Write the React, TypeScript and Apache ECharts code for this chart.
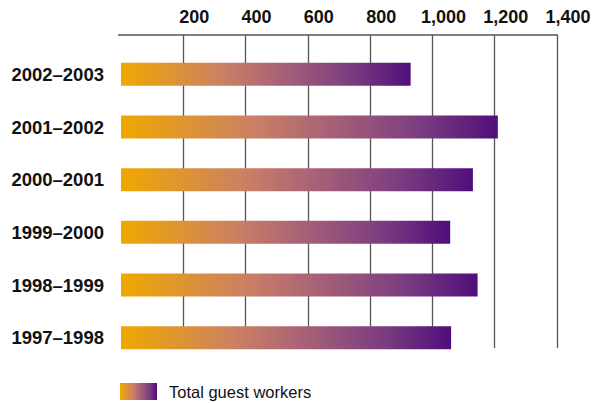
import React, { useEffect, useRef } from "react";
import * as echarts from "echarts";

const categories = ["2002–2003", "2001–2002", "2000–2001", "1999–2000", "1998–1999", "1997–1998"];
const guestWorkers = [930, 1210, 1130, 1057, 1145, 1060];
const seriesName = "Total guest workers";
const xMin = 0;
const xMax = 1400;
const xInterval = 200;

const FONT = "'Liberation Sans', Arial, sans-serif";

export default function App() {
  const ref = useRef<HTMLDivElement>(null);
  useEffect(() => {
    if (!ref.current) return;
    const chart = echarts.init(ref.current, null, { renderer: "svg" });
    const gradient = new echarts.graphic.LinearGradient(0, 0, 1, 0, [
      { offset: 0, color: "#F0A800" },
      { offset: 0.35, color: "#CB8064" },
      { offset: 0.55, color: "#A86277" },
      { offset: 0.8, color: "#7A3C80" },
      { offset: 1, color: "#500E7A" },
    ]);
    chart.setOption({
      animation: false,
      backgroundColor: "#ffffff",
      textStyle: { fontFamily: FONT },
      legend: {
        show: true,
        left: 120,
        top: 383,
        padding: 0,
        icon: "rect",
        itemWidth: 37,
        itemHeight: 17,
        data: [seriesName],
        textStyle: {
          fontFamily: FONT,
          fontSize: 16.5,
          color: "#111",
          padding: [0, 0, 0, 7],
        },
      },
      graphic: [
        {
          type: "line",
          shape: { x1: 118, y1: 35, x2: 558, y2: 35 },
          style: { stroke: "#000", lineWidth: 1.2 },
        },
      ],
      grid: [
        { left: 121, right: 37, top: 48, height: 316, containLabel: false },
        { left: 183.3, right: 37, top: 35, height: 313, containLabel: false },
      ],
      xAxis: [
        { gridIndex: 0, type: "value", min: xMin, max: xMax, interval: xInterval, show: false },
        {
          gridIndex: 1,
          type: "value",
          position: "top",
          min: xInterval,
          max: xMax,
          interval: xInterval,
          axisLine: { show: false },
          axisTick: { show: false },
          splitLine: { show: true, lineStyle: { color: "#555", width: 1.3 } },
          axisLabel: {
            margin: 9,
            fontFamily: FONT,
            fontWeight: "bold",
            fontSize: 18,
            color: "#111",
            padding: [0, 0, 0, 22],
            formatter: (v: number) => v.toLocaleString("en-US"),
          },
        },
      ],
      yAxis: [
        {
          gridIndex: 0,
          type: "category",
          data: categories,
          inverse: true,
          axisLine: { show: false },
          axisTick: { show: false },
          splitLine: { show: false },
          axisLabel: {
            margin: 17,
            fontFamily: FONT,
            fontWeight: "bold",
            fontSize: 18.5,
            color: "#111",
          },
        },
        { gridIndex: 1, type: "value", min: 0, max: 1, show: false },
      ],
      series: [
        {
          name: seriesName,
          type: "bar",
          xAxisIndex: 0,
          yAxisIndex: 0,
          data: guestWorkers,
          barWidth: 23,
          itemStyle: { color: gradient },
        },
      ],
    });
    return () => chart.dispose();
  }, []);
  return (
    <div
      ref={ref}
      style={{ position: "fixed", left: 0, top: 0, width: 594, height: 403 }}
    />
  );
}
